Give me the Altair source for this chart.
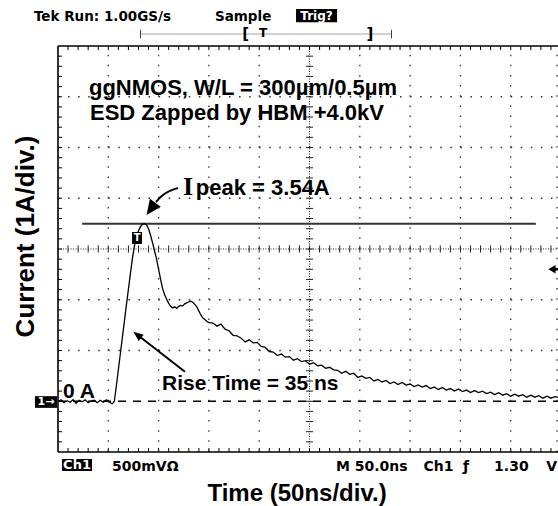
import altair as alt
import pandas as pd

# ---------------- values ----------------
# time (ns from left edge of graticule) and current (A)
time_ns = [0, 3, 6, 9, 12, 15, 18, 21, 24, 27, 30, 33, 36, 39, 42, 45, 48, 51, 54,
           56, 58, 60, 62, 64, 66, 68, 70, 72, 74, 76, 78, 80, 82, 84, 86, 88, 90, 92, 94,
           96, 98, 100, 102, 104, 106, 108, 110, 112, 114, 116, 118, 120, 122, 124, 126,
           128, 130, 132, 134, 136, 138, 140, 142, 144, 146, 148, 150,
           154, 158, 162, 166, 170, 174, 178, 182, 186, 190, 194, 198, 202, 206, 210,
           214, 218, 222, 226, 230, 234, 238, 242, 246, 250, 254, 258, 262, 266, 270,
           274, 278, 282, 286, 290, 294, 298, 302, 306, 310, 314, 318, 322, 326, 330,
           334, 338, 342, 346, 350, 354, 358, 362, 366, 370, 374, 378, 382, 386, 390,
           394, 398, 402, 406, 410, 414, 418, 422, 426, 430, 434, 438, 442, 446, 450,
           454, 458, 462, 466, 470, 474, 478, 482, 486, 490, 494, 498]
current_a = [-0.01, 0.03, -0.03, 0.01, -0.02, 0.03, -0.04, 0.02, -0.01, 0.03, -0.03, 0.01,
             0.02, -0.03, 0.02, -0.02, 0.03, -0.02, -0.05,
             0.00, 0.30, 0.62, 0.94, 1.26, 1.58, 1.90, 2.21, 2.52, 2.82,
             3.06, 3.24, 3.36, 3.44, 3.49, 3.50, 3.48, 3.40, 3.27, 3.12,
             2.96, 2.80, 2.60, 2.40, 2.22, 2.10, 2.01, 1.93, 1.87, 1.84,
             1.86, 1.83, 1.87, 1.89, 1.88, 1.92, 1.94, 1.96, 1.97, 1.95,
             1.91, 1.86, 1.78, 1.70, 1.64, 1.61, 1.57, 1.55,
             1.54, 1.48, 1.52, 1.42, 1.39, 1.30, 1.29, 1.24, 1.17, 1.21,
             1.15, 1.16, 1.08, 1.06, 0.98, 0.97, 0.90, 0.93, 0.87, 0.88,
             0.81, 0.84, 0.78, 0.80, 0.73, 0.76, 0.70, 0.71, 0.65, 0.67,
             0.62, 0.61, 0.55, 0.59, 0.53, 0.55, 0.47, 0.50, 0.45, 0.47,
             0.40, 0.43, 0.38, 0.41, 0.35, 0.38, 0.33, 0.37, 0.32, 0.34,
             0.29, 0.32, 0.28, 0.31, 0.25, 0.28, 0.23, 0.27, 0.22, 0.25,
             0.20, 0.24, 0.19, 0.22, 0.17, 0.21, 0.17, 0.20, 0.15, 0.18,
             0.13, 0.17, 0.12, 0.15, 0.10, 0.14, 0.10, 0.13, 0.08, 0.12,
             0.08, 0.11, 0.06, 0.10, 0.06, 0.09, 0.07]

peak_level = [3.50]          # Ipeak cursor line
trigger_level = [2.6]        # trigger level arrow (right edge)
x_divisions = [50, 100, 150, 200, 300, 350, 400, 450]
y_divisions = [1, 2, 4, 5, 6]   # 0 A is drawn as the dashed reference line
center_t = [250]
center_i = [3]
minor_t = list(range(10, 500, 10))
minor_i = [round(-1 + 0.2 * k, 2) for k in range(1, 40)]

T0, T1 = 0, 497
I0, I1 = -1, 7

xs = alt.Scale(domain=[T0, T1], nice=False, zero=False)
ys = alt.Scale(domain=[I0, I1], nice=False, zero=False)


def XQ(f):
    return alt.X(f"{f}:Q", scale=xs, axis=None)


def YQ(f):
    return alt.Y(f"{f}:Q", scale=ys, axis=None)


layers = []

# ---------------- graticule ----------------
grid_v = pd.DataFrame({"t": x_divisions, "i0": I0, "i1": I1})
layers.append(alt.Chart(grid_v).mark_rule(color="#333", strokeWidth=1.3, strokeDash=[1.5, 8.65])
              .encode(x=XQ("t"), y=YQ("i0"), y2="i1:Q"))
grid_h = pd.DataFrame({"i": y_divisions, "t0": T0, "t1": T1})
layers.append(alt.Chart(grid_h).mark_rule(color="#333", strokeWidth=1.3, strokeDash=[1.5, 8.56])
              .encode(y=YQ("i"), x=XQ("t0"), x2="t1:Q"))
# right edge column of dots
right_col = pd.DataFrame({"t": [496], "i0": I0, "i1": I1})
layers.append(alt.Chart(right_col).mark_rule(color="#333", strokeWidth=1.3, strokeDash=[1.5, 8.65])
              .encode(x=XQ("t"), y=YQ("i0"), y2="i1:Q"))

# center cross (dense dots + ticks)
cv = pd.DataFrame({"t": center_t, "i0": I0, "i1": I1})
layers.append(alt.Chart(cv).mark_rule(color="#222", strokeWidth=1, strokeDash=[1, 1.5])
              .encode(x=XQ("t"), y=YQ("i0"), y2="i1:Q"))
ch = pd.DataFrame({"i": center_i, "t0": T0, "t1": T1})
layers.append(alt.Chart(ch).mark_rule(color="#222", strokeWidth=1, strokeDash=[1, 1.5])
              .encode(y=YQ("i"), x=XQ("t0"), x2="t1:Q"))
cvt = pd.DataFrame({"i": minor_i, "t0": center_t[0] - 3.5, "t1": center_t[0] + 3.5})
layers.append(alt.Chart(cvt).mark_rule(color="#222", strokeWidth=1)
              .encode(y=YQ("i"), x=XQ("t0"), x2="t1:Q"))
cht = pd.DataFrame({"t": minor_t, "i0": center_i[0] - 0.07, "i1": center_i[0] + 0.07})
layers.append(alt.Chart(cht).mark_rule(color="#222", strokeWidth=1)
              .encode(x=XQ("t"), y=YQ("i0"), y2="i1:Q"))

# border (left, top, bottom) + inward ticks
border_v = pd.DataFrame({"t": [T0], "i0": I0, "i1": I1})
layers.append(alt.Chart(border_v).mark_rule(color="black", strokeWidth=1.6)
              .encode(x=XQ("t"), y=YQ("i0"), y2="i1:Q"))
border_h = pd.DataFrame({"i": [I0, I1], "t0": T0, "t1": T1})
layers.append(alt.Chart(border_h).mark_rule(color="black", strokeWidth=1.6)
              .encode(y=YQ("i"), x=XQ("t0"), x2="t1:Q"))
lt = pd.DataFrame({"i": minor_i, "t0": T0, "t1": T0 + 4})
layers.append(alt.Chart(lt).mark_rule(color="black", strokeWidth=1)
              .encode(y=YQ("i"), x=XQ("t0"), x2="t1:Q"))
tt = pd.DataFrame({"t": minor_t, "i0": I1, "i1": I1 - 0.08})
layers.append(alt.Chart(tt).mark_rule(color="black", strokeWidth=1)
              .encode(x=XQ("t"), y=YQ("i0"), y2="i1:Q"))
bt = pd.DataFrame({"t": minor_t, "i0": I0, "i1": I0 + 0.08})
layers.append(alt.Chart(bt).mark_rule(color="black", strokeWidth=1)
              .encode(x=XQ("t"), y=YQ("i0"), y2="i1:Q"))

# ---------------- zero reference (dashed) and Ipeak cursor ----------------
zero = pd.DataFrame({"i": [0], "t0": T0, "t1": T1})
layers.append(alt.Chart(zero).mark_rule(color="black", strokeWidth=1.3, strokeDash=[8, 7])
              .encode(y=YQ("i"), x=XQ("t0"), x2="t1:Q"))
peak = pd.DataFrame({"i": peak_level, "t0": 24, "t1": 475})
layers.append(alt.Chart(peak).mark_rule(color="#333", strokeWidth=2)
              .encode(y=YQ("i"), x=XQ("t0"), x2="t1:Q"))

# ---------------- the trace ----------------
trace = pd.DataFrame({"t": time_ns, "i": current_a})
layers.append(alt.Chart(trace).mark_line(color="black", strokeWidth=1.3)
              .encode(x=XQ("t"), y=YQ("i")))


# ---------------- annotations ----------------
def label(text, t, i, **mk):
    df = pd.DataFrame({"t": [t], "i": [i], "label": [text]})
    return alt.Chart(df).mark_text(**mk).encode(x=XQ("t"), y=YQ("i"), text="label:N")


def box(t0, t1, i0, i1):
    df = pd.DataFrame({"t0": [t0], "t1": [t1], "i0": [i0], "i1": [i1]})
    return alt.Chart(df).mark_rect(color="black").encode(x=XQ("t0"), x2="t1:Q", y=YQ("i0"), y2="i1:Q")


SANS = "Liberation Sans"
SCOPE = "DejaVu Sans"
big = dict(font=SANS, fontWeight="bold", color="black", align="left", baseline="alphabetic")

layers.append(label("ggNMOS, W/L = 300\u00b5m/0.5\u00b5m", 30.8, 6.03, fontSize=22, **big))
layers.append(label("ESD Zapped by HBM +4.0kV", 31.8, 5.54, fontSize=22, **big))
layers.append(label("I", 124.3, 4.06, fontSize=26, font="Liberation Serif", fontWeight="bold",
                    color="black", align="left", baseline="alphabetic"))
layers.append(label("peak = 3.54A", 137.0, 4.06, fontSize=22, **big))
layers.append(label("Rise Time = 35 ns", 103.4, 0.22, fontSize=21, **big))
layers.append(label("0 A", 5.0, 0.064, fontSize=21, **big))

# Ipeak curved arrow
ip_curve = pd.DataFrame({"t": [119.3, 111.3, 103.4, 97.4], "i": [4.202, 4.153, 4.064, 3.926],
                         "o": [0, 1, 2, 3]})
layers.append(alt.Chart(ip_curve).mark_line(color="black", strokeWidth=2, interpolate="basis")
              .encode(x=XQ("t"), y=YQ("i"), order="o:Q"))
ip_head = pd.DataFrame({"t": [92.4], "i": [3.79]})
layers.append(alt.Chart(ip_head).mark_point(shape="M0,-1L0.9,1L-0.9,1Z", filled=True, opacity=1,
                                            color="black", size=225, angle=216)
              .encode(x=XQ("t"), y=YQ("i")))

# rise-time arrow
rise_line = pd.DataFrame({"t": [126.2, 78.8], "i": [0.582, 1.309], "o": [0, 1]})
layers.append(alt.Chart(rise_line).mark_line(color="black", strokeWidth=2)
              .encode(x=XQ("t"), y=YQ("i"), order="o:Q"))
rise_head = pd.DataFrame({"t": [78.8], "i": [1.309]})
layers.append(alt.Chart(rise_head).mark_point(shape="M0,-1L0.8,1L-0.8,1Z", filled=True, opacity=1,
                                              color="black", size=100, angle=308)
              .encode(x=XQ("t"), y=YQ("i")))

# trigger position marker "T" near the peak
layers.append(box(73.6, 83.5, 3.335, 3.099))
layers.append(label("T", 78.6, 3.217, fontSize=10, font=SCOPE, fontWeight="bold", color="white",
                    align="center", baseline="middle"))

# trigger level arrow at right edge
trg_head = pd.DataFrame({"t": [491], "i": trigger_level})
layers.append(alt.Chart(trg_head).mark_point(shape="triangle-left", filled=True, opacity=1,
                                             color="black", size=70)
              .encode(x=XQ("t"), y=YQ("i")))
trg_tail = pd.DataFrame({"i": trigger_level, "t0": 492, "t1": 497})
layers.append(alt.Chart(trg_tail).mark_rule(color="black", strokeWidth=2.5)
              .encode(y=YQ("i"), x=XQ("t0"), x2="t1:Q"))

# channel-1 ground marker
layers.append(box(-22.9, -1.0, 0.10, -0.13))
layers.append(label("1\u2192", -12.0, -0.015, fontSize=11, font=SCOPE, fontWeight="bold",
                    color="white", align="center", baseline="middle"))

# top status line
scope = dict(font=SCOPE, fontWeight="bold", color="black", baseline="alphabetic")
layers.append(label("Tek Run: 1.00GS/s", -23.9, 7.49, fontSize=13.5, align="left", **scope))
layers.append(label("Sample", 156.0, 7.49, fontSize=13.5, align="left", **scope))
layers.append(box(236.6, 277.4, 7.73, 7.47))
layers.append(label("Trig?", 257.0, 7.60, fontSize=12, font=SCOPE, fontWeight="bold",
                    color="white", align="center", baseline="middle"))

# record-length bar
rec = pd.DataFrame({"i": [7.236], "t0": 82.0, "t1": 331.5})
layers.append(alt.Chart(rec).mark_rule(color="#444", strokeWidth=1, strokeDash=[1, 1])
              .encode(y=YQ("i"), x=XQ("t0"), x2="t1:Q"))
rec_caps = pd.DataFrame({"t": [82.0, 331.5], "i0": 7.15, "i1": 7.32})
layers.append(alt.Chart(rec_caps).mark_rule(color="#444", strokeWidth=1)
              .encode(x=XQ("t"), y=YQ("i0"), y2="i1:Q"))
layers.append(label("[", 186.5, 7.236, fontSize=15, align="center", font=SCOPE, fontWeight="bold",
                    color="black", baseline="middle"))
layers.append(label("]", 310.0, 7.236, fontSize=15, align="center", font=SCOPE, fontWeight="bold",
                    color="black", baseline="middle"))
layers.append(label("T", 203.8, 7.25, fontSize=12, align="center", font=SCOPE, fontWeight="bold",
                    color="black", baseline="middle"))

# bottom readout
layers.append(box(4.0, 33.8, -1.138, -1.374))
layers.append(label("Ch1", 18.9, -1.256, fontSize=13, font=SCOPE, fontWeight="bold",
                    color="white", align="center", baseline="middle"))
layers.append(label("500mV\u03a9", 53.7, -1.365, fontSize=14, align="left", **scope))
layers.append(label("M 50.0ns", 276.3, -1.365, fontSize=14, align="left", **scope))
layers.append(label("Ch1", 363.3, -1.365, fontSize=14, align="left", **scope))
layers.append(label("\u0192", 402.6, -1.365, fontSize=14, align="left", **scope))
layers.append(label("1.30", 433.5, -1.365, fontSize=14, align="left", **scope))
layers.append(label("V", 496.0, -1.365, fontSize=14, align="right", **scope))

# axis titles
layers.append(label("Time (50ns/div.)", 237.6, -1.966, fontSize=24, font=SANS, fontWeight="bold",
                    color="black", align="center", baseline="alphabetic"))
layers.append(label("Current (1A/div.)", -32.3, 3.246, fontSize=26, font=SANS, fontWeight="bold",
                    color="black", align="center", baseline="middle", angle=270))

chart = alt.layer(*layers).properties(
    width=500,
    height=406,
    padding={"left": 58, "top": 46, "right": 0, "bottom": 54},
    autosize="none",
    background="white",
).configure_view(stroke=None)

chart.save("out.html", embed_options={"renderer": "svg", "actions": False})
